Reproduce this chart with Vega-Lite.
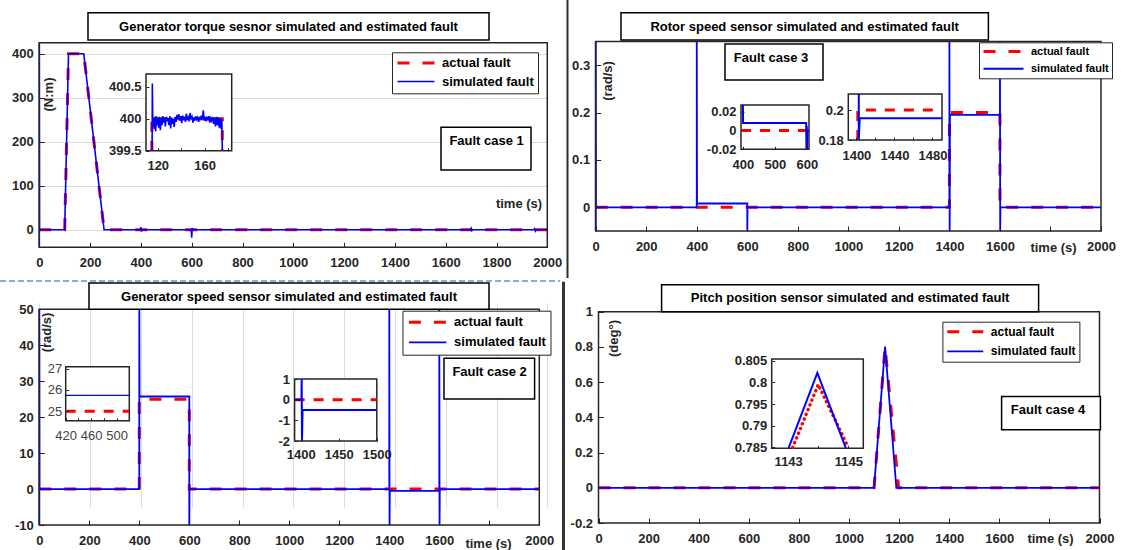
{
"$schema": "https://vega.github.io/schema/vega-lite/v6.json",
"width": 1123, "height": 550, "padding": 0, "autosize": "none", "background": "white",
"config": {
  "view": {"stroke": null},
  "font": "Liberation Sans",
  "axis": {"labelFont": "Liberation Sans", "labelFontSize": 13, "labelFontWeight": "bold", "labelColor": "#262626", "titleFont": "Liberation Sans", "titleFontSize": 13, "titleFontWeight": "bold", "titleColor": "#262626", "gridColor": "#dcdcdc", "gridWidth": 1, "gridOpacity": 1, "grid": true, "domain": false, "tickColor": "#262626", "tickSize": -5, "tickWidth": 1, "labelOverlap": false, "labelFlush": false, "labelBound": false},
  "axisX": {"labelPadding": 14},
  "axisY": {"labelPadding": 11},
  "legend": {"fillColor": "white", "strokeColor": "#262626", "symbolType": "stroke", "labelFont": "Liberation Sans", "labelFontWeight": "bold", "labelColor": "#000", "labelOffset": 6, "title": null}
},
"datasets": {
  "p1": [
    {"t":0,"v":0,"s":"actual fault"},{"t":100,"v":0,"s":"actual fault"},{"t":115,"v":400,"s":"actual fault"},{"t":175,"v":400,"s":"actual fault"},{"t":255,"v":0,"s":"actual fault"},{"t":2000,"v":0,"s":"actual fault"},
    {"t":0,"v":-40,"s":"simulated fault"},{"t":0,"v":425,"s":"simulated fault"},{"t":1,"v":0,"s":"simulated fault"},{"t":100,"v":0,"s":"simulated fault"},{"t":115,"v":400,"s":"simulated fault"},{"t":175,"v":400,"s":"simulated fault"},{"t":255,"v":0,"s":"simulated fault"},{"t":398,"v":0,"s":"simulated fault"},{"t":400,"v":6,"s":"simulated fault"},{"t":402,"v":-4,"s":"simulated fault"},{"t":404,"v":0,"s":"simulated fault"},{"t":598,"v":0,"s":"simulated fault"},{"t":600,"v":-18,"s":"simulated fault"},{"t":602,"v":4,"s":"simulated fault"},{"t":604,"v":0,"s":"simulated fault"},{"t":1698,"v":0,"s":"simulated fault"},{"t":1700,"v":3,"s":"simulated fault"},{"t":1703,"v":-2,"s":"simulated fault"},{"t":1706,"v":0,"s":"simulated fault"},{"t":1948,"v":0,"s":"simulated fault"},{"t":1950,"v":2,"s":"simulated fault"},{"t":1953,"v":-3,"s":"simulated fault"},{"t":1956,"v":0,"s":"simulated fault"},{"t":2000,"v":0,"s":"simulated fault"}
  ],
  "p1i": [
    {"t":115,"v":399.5,"s":"actual fault"},{"t":115,"v":400,"s":"actual fault"},{"t":175,"v":400,"s":"actual fault"},{"t":175,"v":399.5,"s":"actual fault"},
    {"t":115.2,"v":399.5,"s":"simulated fault"},{"t":115.4,"v":400.55,"s":"simulated fault"},{"t":115.8,"v":399.88,"s":"simulated fault"},{"t":116.4,"v":400.02,"s":"simulated fault"},{"t":117,"v":399.84,"s":"simulated fault"},{"t":117.6,"v":400.03,"s":"simulated fault"},{"t":118.2,"v":399.8,"s":"simulated fault"},{"t":118.9,"v":400.04,"s":"simulated fault"},{"t":119.5,"v":399.9,"s":"simulated fault"},{"t":120.2,"v":400.02,"s":"simulated fault"},{"t":120.8,"v":399.86,"s":"simulated fault"},{"t":121.5,"v":400.03,"s":"simulated fault"},{"t":122.2,"v":399.82,"s":"simulated fault"},{"t":122.9,"v":400.01,"s":"simulated fault"},{"t":123.6,"v":399.9,"s":"simulated fault"},{"t":124.3,"v":400.04,"s":"simulated fault"},{"t":125,"v":399.94,"s":"simulated fault"},{"t":125.8,"v":400.02,"s":"simulated fault"},{"t":126.5,"v":399.88,"s":"simulated fault"},{"t":127.3,"v":400.03,"s":"simulated fault"},{"t":128,"v":399.96,"s":"simulated fault"},{"t":128.8,"v":400.01,"s":"simulated fault"},{"t":129.5,"v":399.9,"s":"simulated fault"},{"t":130.3,"v":400.04,"s":"simulated fault"},{"t":131,"v":399.85,"s":"simulated fault"},{"t":131.8,"v":400.02,"s":"simulated fault"},{"t":132.5,"v":399.92,"s":"simulated fault"},{"t":133.3,"v":400.0,"s":"simulated fault"},{"t":134,"v":399.87,"s":"simulated fault"},{"t":134.8,"v":400.03,"s":"simulated fault"},{"t":135.6,"v":399.95,"s":"simulated fault"},{"t":136.4,"v":400.06,"s":"simulated fault"},{"t":137.2,"v":400.0,"s":"simulated fault"},{"t":138,"v":400.07,"s":"simulated fault"},{"t":138.8,"v":399.97,"s":"simulated fault"},{"t":139.6,"v":400.04,"s":"simulated fault"},{"t":140.4,"v":399.93,"s":"simulated fault"},{"t":141.2,"v":400.05,"s":"simulated fault"},{"t":142,"v":399.98,"s":"simulated fault"},{"t":142.8,"v":400.03,"s":"simulated fault"},{"t":143.6,"v":399.95,"s":"simulated fault"},{"t":144.4,"v":400.08,"s":"simulated fault"},{"t":145.2,"v":399.98,"s":"simulated fault"},{"t":146,"v":400.02,"s":"simulated fault"},{"t":146.8,"v":399.96,"s":"simulated fault"},{"t":147.6,"v":400.09,"s":"simulated fault"},{"t":148.4,"v":399.99,"s":"simulated fault"},{"t":149.2,"v":400.03,"s":"simulated fault"},{"t":150,"v":399.94,"s":"simulated fault"},{"t":150.8,"v":400.02,"s":"simulated fault"},{"t":151.6,"v":399.97,"s":"simulated fault"},{"t":152.4,"v":400.04,"s":"simulated fault"},{"t":153.2,"v":399.99,"s":"simulated fault"},{"t":154,"v":400.02,"s":"simulated fault"},{"t":154.8,"v":399.95,"s":"simulated fault"},{"t":155.6,"v":400.03,"s":"simulated fault"},{"t":156.4,"v":399.98,"s":"simulated fault"},{"t":157.2,"v":400.05,"s":"simulated fault"},{"t":158,"v":399.99,"s":"simulated fault"},{"t":158.8,"v":400.13,"s":"simulated fault"},{"t":159.6,"v":399.97,"s":"simulated fault"},{"t":160.4,"v":400.03,"s":"simulated fault"},{"t":161.2,"v":399.96,"s":"simulated fault"},{"t":162,"v":400.02,"s":"simulated fault"},{"t":162.8,"v":399.99,"s":"simulated fault"},{"t":163.6,"v":400.04,"s":"simulated fault"},{"t":164.4,"v":399.94,"s":"simulated fault"},{"t":165.2,"v":400.01,"s":"simulated fault"},{"t":166,"v":399.97,"s":"simulated fault"},{"t":166.8,"v":400.03,"s":"simulated fault"},{"t":167.6,"v":399.92,"s":"simulated fault"},{"t":168.4,"v":400.02,"s":"simulated fault"},{"t":169.2,"v":399.88,"s":"simulated fault"},{"t":170,"v":400.03,"s":"simulated fault"},{"t":170.8,"v":399.9,"s":"simulated fault"},{"t":171.6,"v":400.02,"s":"simulated fault"},{"t":172.4,"v":399.86,"s":"simulated fault"},{"t":173.2,"v":400.01,"s":"simulated fault"},{"t":174,"v":399.84,"s":"simulated fault"},{"t":174.6,"v":400.0,"s":"simulated fault"},{"t":175,"v":399.5,"s":"simulated fault"}
  ],
  "p2": [
    {"t":0,"v":0,"s":"actual fault"},{"t":1400,"v":0,"s":"actual fault"},{"t":1400,"v":0.2,"s":"actual fault"},{"t":1600,"v":0.2,"s":"actual fault"},{"t":1600,"v":0,"s":"actual fault"},{"t":2000,"v":0,"s":"actual fault"},
    {"t":0,"v":-0.05,"s":"simulated fault"},{"t":0,"v":0.35,"s":"simulated fault"},{"t":1,"v":0,"s":"simulated fault"},{"t":400,"v":0,"s":"simulated fault"},{"t":400,"v":0.35,"s":"simulated fault"},{"t":401,"v":0.008,"s":"simulated fault"},{"t":600,"v":0.008,"s":"simulated fault"},{"t":600,"v":-0.05,"s":"simulated fault"},{"t":601,"v":0,"s":"simulated fault"},{"t":1400,"v":0,"s":"simulated fault"},{"t":1400,"v":0.35,"s":"simulated fault"},{"t":1401,"v":-0.05,"s":"simulated fault"},{"t":1402,"v":0.195,"s":"simulated fault"},{"t":1600,"v":0.195,"s":"simulated fault"},{"t":1600,"v":0.35,"s":"simulated fault"},{"t":1601,"v":-0.05,"s":"simulated fault"},{"t":1602,"v":0,"s":"simulated fault"},{"t":2000,"v":0,"s":"simulated fault"}
  ],
  "p2a": [
    {"t":394,"v":0,"s":"actual fault"},{"t":607,"v":0,"s":"actual fault"},
    {"t":400,"v":0.027,"s":"simulated fault"},{"t":400.5,"v":0.008,"s":"simulated fault"},{"t":598,"v":0.008,"s":"simulated fault"},{"t":599,"v":-0.02,"s":"simulated fault"},{"t":600,"v":0.005,"s":"simulated fault"},{"t":601,"v":-0.02,"s":"simulated fault"},{"t":602,"v":0,"s":"simulated fault"},{"t":607,"v":0,"s":"simulated fault"}
  ],
  "p2b": [
    {"t":1401.5,"v":0.18,"s":"actual fault"},{"t":1401.5,"v":0.2,"s":"actual fault"},{"t":1490,"v":0.2,"s":"actual fault"},
    {"t":1402.5,"v":0.2107,"s":"simulated fault"},{"t":1402.5,"v":0.18,"s":"simulated fault"},{"t":1403.5,"v":0.1945,"s":"simulated fault"},{"t":1490,"v":0.1945,"s":"simulated fault"}
  ],
  "p3": [
    {"t":0,"v":0,"s":"actual fault"},{"t":400,"v":0,"s":"actual fault"},{"t":400,"v":25,"s":"actual fault"},{"t":600,"v":25,"s":"actual fault"},{"t":600,"v":0,"s":"actual fault"},{"t":2000,"v":0,"s":"actual fault"},
    {"t":0,"v":-10,"s":"simulated fault"},{"t":0,"v":50,"s":"simulated fault"},{"t":1,"v":0,"s":"simulated fault"},{"t":400,"v":0,"s":"simulated fault"},{"t":400,"v":50,"s":"simulated fault"},{"t":401,"v":25.75,"s":"simulated fault"},{"t":600,"v":25.75,"s":"simulated fault"},{"t":600,"v":-10,"s":"simulated fault"},{"t":601,"v":0,"s":"simulated fault"},{"t":1400,"v":0,"s":"simulated fault"},{"t":1400,"v":50,"s":"simulated fault"},{"t":1401,"v":-10,"s":"simulated fault"},{"t":1402,"v":-0.5,"s":"simulated fault"},{"t":1600,"v":-0.5,"s":"simulated fault"},{"t":1600,"v":50,"s":"simulated fault"},{"t":1601,"v":-10,"s":"simulated fault"},{"t":1602,"v":0,"s":"simulated fault"},{"t":2000,"v":0,"s":"simulated fault"}
  ],
  "p3a": [
    {"t":420,"v":25,"s":"actual fault"},{"t":520,"v":25,"s":"actual fault"},
    {"t":420,"v":25.75,"s":"simulated fault"},{"t":520,"v":25.75,"s":"simulated fault"}
  ],
  "p3b": [
    {"t":1392,"v":0,"s":"actual fault"},{"t":1500,"v":0,"s":"actual fault"},
    {"t":1392,"v":0,"s":"simulated fault"},{"t":1401,"v":0,"s":"simulated fault"},{"t":1401.3,"v":1,"s":"simulated fault"},{"t":1401.7,"v":-2,"s":"simulated fault"},{"t":1402.5,"v":-0.5,"s":"simulated fault"},{"t":1500,"v":-0.5,"s":"simulated fault"}
  ],
  "p4": [
    {"t":0,"v":0,"s":"actual fault"},{"t":1100,"v":0,"s":"actual fault"},{"t":1144,"v":0.8,"s":"actual fault"},{"t":1198,"v":0,"s":"actual fault"},{"t":2000,"v":0,"s":"actual fault"},
    {"t":0,"v":0,"s":"simulated fault"},{"t":1100,"v":0,"s":"simulated fault"},{"t":1144,"v":0.802,"s":"simulated fault"},{"t":1189,"v":0,"s":"simulated fault"},{"t":2000,"v":0,"s":"simulated fault"}
  ],
  "p4i": [
    {"t":1143.15,"v":0.785,"s":"actual fault"},{"t":1144.0,"v":0.7995,"s":"actual fault"},{"t":1145.0,"v":0.785,"s":"actual fault"},
    {"t":1143.02,"v":0.785,"s":"simulated fault"},{"t":1143.97,"v":0.8022,"s":"simulated fault"},{"t":1144.91,"v":0.785,"s":"simulated fault"}
  ]
},
"resolve": {
  "scale": {"x": "independent", "y": "independent", "color": "independent", "strokeDash": "independent", "strokeWidth": "independent"},
  "axis": {"x": "independent", "y": "independent"},
  "legend": {"color": "independent", "strokeDash": "independent", "strokeWidth": "independent"}
},
"layer": [
  {"layer": [
    {"data": {"name": "p1"}, "mark": {"type": "line", "strokeCap": "butt"},
     "encoding": {
      "x": {"field": "t", "type": "quantitative", "scale": {"domain": [0, 2000], "range": [39.3, 547.3], "nice": false, "zero": false},
            "axis": {"orient": "bottom", "offset": -302.7, "values": [0,200,400,600,800,1000,1200,1400,1600,1800,2000], "labelExpr": "'' + datum.value", "title": "time (s)", "titleX": 518.5, "titleY": -44.3, "titleAngle": 0, "titleAlign": "center", "titleBaseline": "middle"}},
      "y": {"field": "v", "type": "quantitative", "scale": {"domain": [-40, 425], "range": [247.3, 42.7], "nice": false, "zero": false},
            "axis": {"orient": "left", "offset": -39.3, "values": [0,100,200,300,400], "labelExpr": "'' + datum.value", "title": "(N:m)", "titleX": 8.7, "titleY": 94, "titleAngle": 270, "titleAlign": "center", "titleBaseline": "middle"}},
      "color": {"field": "s", "type": "nominal", "scale": {"domain": ["actual fault", "simulated fault"], "range": ["#ff0000", "#0000ff"]},
                "legend": {"orient": "none", "legendX": 392, "legendY": 52.3, "symbolSize": 1369, "clipHeight": 13.5, "labelFontSize": 13, "padding": 4, "rowPadding": 4.5}},
      "strokeDash": {"field": "s", "type": "nominal", "scale": {"domain": ["actual fault", "simulated fault"], "range": [[12, 13], [1, 0]]}},
      "strokeWidth": {"field": "s", "type": "nominal", "scale": {"domain": ["actual fault", "simulated fault"], "range": [3, 1.6]}},
      "order": {"value": null}
     }},
    {"data": {"values": [{"k": 0}]}, "mark": {"type": "rect", "filled": false, "stroke": "#262626", "strokeWidth": 1.5},
     "encoding": {"x": {"datum": 0}, "x2": {"datum": 2000}, "y": {"datum": -40}, "y2": {"datum": 425}}},
    {"data": {"values": [{"k": 0}]}, "mark": {"type": "rect", "fill": "white", "stroke": "#000", "strokeWidth": 1.5},
     "encoding": {"x": {"datum": 191.7}, "x2": {"datum": 1770.5}, "y": {"datum": 431.1}, "y2": {"datum": 493.2}}},
    {"data": {"values": [{"label": "Generator torque sesnor simulated and estimated fault"}]}, "mark": {"type": "text", "fontSize": 13, "fontWeight": "bold", "color": "#000"},
     "encoding": {"x": {"datum": 981.1}, "y": {"datum": 461.8}, "text": {"field": "label"}}},
    {"data": {"values": [{"k": 0}]}, "mark": {"type": "rect", "fill": "white", "stroke": "#000", "strokeWidth": 1.5},
     "encoding": {"x": {"datum": 1581.5}, "x2": {"datum": 1935.8}, "y": {"datum": 135.7}, "y2": {"datum": 232.7}}},
    {"data": {"values": [{"label": "Fault case 1"}]}, "mark": {"type": "text", "fontSize": 13, "fontWeight": "bold", "color": "#000"},
     "encoding": {"x": {"datum": 1761}, "y": {"datum": 201.6}, "text": {"field": "label"}}}
  ]},
  {"layer": [
    {"data": {"values": [{"k": 0}]}, "mark": {"type": "rect", "fill": "white", "stroke": "#262626", "strokeWidth": 1.5},
     "encoding": {"x": {"datum": 110}, "x2": {"datum": 183}, "y": {"datum": 399.5}, "y2": {"datum": 400.7}}},
    {"data": {"name": "p1i"}, "mark": {"type": "line", "strokeCap": "butt"},
     "encoding": {
      "x": {"field": "t", "type": "quantitative", "scale": {"domain": [110, 183], "range": [146, 231.7], "nice": false, "zero": false},
            "axis": {"orient": "bottom", "offset": -399.3, "values": [120,140,160,180], "labelExpr": "datum.value % 40 == 0 ? '' + datum.value : ''", "title": null, "zindex": 1, "tickSize": -3, "labelPadding": 12}},
      "y": {"field": "v", "type": "quantitative", "scale": {"domain": [399.5, 400.7], "range": [150.7, 74], "nice": false, "zero": false},
            "axis": {"orient": "left", "offset": -146, "values": [399.5, 400, 400.5], "labelExpr": "'' + datum.value", "title": null, "zindex": 1, "tickSize": -3, "labelPadding": 8}},
      "color": {"field": "s", "type": "nominal", "scale": {"domain": ["actual fault", "simulated fault"], "range": ["#ff0000", "#0000ff"]}, "legend": null},
      "strokeDash": {"field": "s", "type": "nominal", "scale": {"domain": ["actual fault", "simulated fault"], "range": [[10, 9], [1, 0]]}, "legend": null},
      "strokeWidth": {"field": "s", "type": "nominal", "scale": {"domain": ["actual fault", "simulated fault"], "range": [3, 1.6]}, "legend": null},
      "order": {"value": null}
     }}
  ]},
  {"layer": [
    {"data": {"name": "p2"}, "mark": {"type": "line", "strokeCap": "butt"},
     "encoding": {
      "x": {"field": "t", "type": "quantitative", "scale": {"domain": [0, 2000], "range": [595.7, 1101], "nice": false, "zero": false},
            "axis": {"orient": "bottom", "offset": -319, "values": [0,200,400,600,800,1000,1200,1400,1600,1800,2000], "labelExpr": "datum.value == 1800 ? '' : '' + datum.value", "title": "time (s)", "titleX": 1053, "titleY": 16, "titleAngle": 0, "titleAlign": "center", "titleBaseline": "middle"}},
      "y": {"field": "v", "type": "quantitative", "scale": {"domain": [-0.05, 0.35], "range": [231, 41.5], "nice": false, "zero": false},
            "axis": {"orient": "left", "offset": -595.7, "values": [0,0.1,0.2,0.3], "labelExpr": "'' + datum.value", "title": "(rad/s)", "titleX": 11.8, "titleY": 80.5, "titleAngle": 270, "titleAlign": "center", "titleBaseline": "middle"}},
      "color": {"field": "s", "type": "nominal", "scale": {"domain": ["actual fault", "simulated fault"], "range": ["#ff0000", "#0000ff"]},
                "legend": {"orient": "none", "legendX": 979, "legendY": 42.3, "symbolSize": 1600, "clipHeight": 12.5, "labelFontSize": 11, "padding": 3, "rowPadding": 4.2}},
      "strokeDash": {"field": "s", "type": "nominal", "scale": {"domain": ["actual fault", "simulated fault"], "range": [[12, 13], [1, 0]]}},
      "strokeWidth": {"field": "s", "type": "nominal", "scale": {"domain": ["actual fault", "simulated fault"], "range": [3, 1.8]}},
      "order": {"value": null}
     }},
    {"data": {"values": [{"k": 0}]}, "mark": {"type": "rect", "filled": false, "stroke": "#262626", "strokeWidth": 1.5},
     "encoding": {"x": {"datum": 0}, "x2": {"datum": 2000}, "y": {"datum": -0.05}, "y2": {"datum": 0.35}}},
    {"data": {"values": [{"k": 0}]}, "mark": {"type": "rect", "fill": "white", "stroke": "#000", "strokeWidth": 1.5},
     "encoding": {"x": {"datum": 100.1}, "x2": {"datum": 1554.3}, "y": {"datum": 0.353}, "y2": {"datum": 0.4108}}},
    {"data": {"values": [{"label": "Rotor speed sensor simulated and estimated fault"}]}, "mark": {"type": "text", "fontSize": 13, "fontWeight": "bold", "color": "#000"},
     "encoding": {"x": {"datum": 827.2}, "y": {"datum": 0.3796}, "text": {"field": "label"}}},
    {"data": {"values": [{"k": 0}]}, "mark": {"type": "rect", "fill": "white", "stroke": "#000", "strokeWidth": 1.5},
     "encoding": {"x": {"datum": 511.8}, "x2": {"datum": 899.7}, "y": {"datum": 0.2687}, "y2": {"datum": 0.3447}}},
    {"data": {"values": [{"label": "Fault case 3"}]}, "mark": {"type": "text", "fontSize": 13, "fontWeight": "bold", "color": "#000"},
     "encoding": {"x": {"datum": 693.9}, "y": {"datum": 0.3158}, "text": {"field": "label"}}},
    {"data": {"values": [{"k": 0}]}, "mark": {"type": "rule", "color": "#2b2b2b", "strokeWidth": 2},
     "encoding": {"x": {"datum": -111.6}, "y": {"datum": 0.4376}, "y2": {"datum": -0.1492}}}
  ]},
  {"layer": [
    {"data": {"values": [{"k": 0}]}, "mark": {"type": "rect", "fill": "white", "stroke": "#262626", "strokeWidth": 1.5},
     "encoding": {"x": {"datum": 394}, "x2": {"datum": 607}, "y": {"datum": -0.02}, "y2": {"datum": 0.027}}},
    {"data": {"name": "p2a"}, "mark": {"type": "line", "strokeCap": "butt"},
     "encoding": {
      "x": {"field": "t", "type": "quantitative", "scale": {"domain": [394, 607], "range": [741, 809], "nice": false, "zero": false},
            "axis": {"orient": "bottom", "offset": -400.7, "values": [400,500,600], "labelExpr": "'' + datum.value", "title": null, "zindex": 1, "tickSize": -3, "labelPadding": 12}},
      "y": {"field": "v", "type": "quantitative", "scale": {"domain": [-0.02, 0.027], "range": [149.3, 105], "nice": false, "zero": false},
            "axis": {"orient": "left", "offset": -741, "values": [-0.02, 0, 0.02], "labelExpr": "'' + datum.value", "title": null, "zindex": 1, "tickSize": -3, "labelPadding": 8}},
      "color": {"field": "s", "type": "nominal", "scale": {"domain": ["actual fault", "simulated fault"], "range": ["#ff0000", "#0000ff"]}, "legend": null},
      "strokeDash": {"field": "s", "type": "nominal", "scale": {"domain": ["actual fault", "simulated fault"], "range": [[10, 9], [1, 0]]}, "legend": null},
      "strokeWidth": {"field": "s", "type": "nominal", "scale": {"domain": ["actual fault", "simulated fault"], "range": [3, 2]}, "legend": null},
      "order": {"value": null}
     }}
  ]},
  {"layer": [
    {"data": {"values": [{"k": 0}]}, "mark": {"type": "rect", "fill": "white", "stroke": "#262626", "strokeWidth": 1.5},
     "encoding": {"x": {"datum": 1391.5}, "x2": {"datum": 1490}, "y": {"datum": 0.18}, "y2": {"datum": 0.2107}}},
    {"data": {"name": "p2b"}, "mark": {"type": "line", "strokeCap": "butt"},
     "encoding": {
      "x": {"field": "t", "type": "quantitative", "scale": {"domain": [1391.5, 1490], "range": [848.3, 942], "nice": false, "zero": false},
            "axis": {"orient": "bottom", "offset": -410, "values": [1400,1420,1440,1460,1480], "labelExpr": "(datum.value - 1400) % 40 == 0 ? '' + datum.value : ''", "title": null, "zindex": 1, "tickSize": -3, "labelPadding": 12}},
      "y": {"field": "v", "type": "quantitative", "scale": {"domain": [0.18, 0.2107], "range": [140, 94], "nice": false, "zero": false},
            "axis": {"orient": "left", "offset": -848.3, "values": [0.18, 0.2], "labelExpr": "'' + datum.value", "title": null, "zindex": 1, "tickSize": -3, "labelPadding": 8}},
      "color": {"field": "s", "type": "nominal", "scale": {"domain": ["actual fault", "simulated fault"], "range": ["#ff0000", "#0000ff"]}, "legend": null},
      "strokeDash": {"field": "s", "type": "nominal", "scale": {"domain": ["actual fault", "simulated fault"], "range": [[10, 9], [1, 0]]}, "legend": null},
      "strokeWidth": {"field": "s", "type": "nominal", "scale": {"domain": ["actual fault", "simulated fault"], "range": [3, 2]}, "legend": null},
      "order": {"value": null}
     }}
  ]},
  {"layer": [
    {"data": {"name": "p3"}, "mark": {"type": "line", "strokeCap": "butt"},
     "encoding": {
      "x": {"field": "t", "type": "quantitative", "scale": {"domain": [0, 2000], "range": [39.3, 539.3], "nice": false, "zero": false},
            "axis": {"orient": "bottom", "offset": -25, "values": [0,200,400,600,800,1000,1200,1400,1600,1800,2000], "labelExpr": "datum.value == 1800 ? '' : '' + datum.value", "title": "time (s)", "titleX": 488, "titleY": 18, "titleAngle": 0, "titleAlign": "center", "titleBaseline": "middle"}},
      "y": {"field": "v", "type": "quantitative", "scale": {"domain": [-10, 50], "range": [525, 309.3], "nice": false, "zero": false},
            "axis": {"orient": "left", "offset": -39.3, "values": [-10,0,10,20,30,40,50], "labelExpr": "'' + datum.value", "title": "(rad/s)", "titleX": 7.5, "titleY": 332, "titleAngle": 270, "titleAlign": "center", "titleBaseline": "middle"}},
      "color": {"field": "s", "type": "nominal", "scale": {"domain": ["actual fault", "simulated fault"], "range": ["#ff0000", "#0000ff"]},
                "legend": {"orient": "none", "legendX": 402.5, "legendY": 310.7, "symbolSize": 1400, "clipHeight": 14, "labelFontSize": 13, "padding": 4.6, "rowPadding": 6}},
      "strokeDash": {"field": "s", "type": "nominal", "scale": {"domain": ["actual fault", "simulated fault"], "range": [[12, 13], [1, 0]]}},
      "strokeWidth": {"field": "s", "type": "nominal", "scale": {"domain": ["actual fault", "simulated fault"], "range": [3, 1.8]}},
      "order": {"value": null}
     }},
    {"data": {"values": [{"k": 0}]}, "mark": {"type": "rect", "filled": false, "stroke": "#262626", "strokeWidth": 1.5},
     "encoding": {"x": {"datum": 0}, "x2": {"datum": 2000}, "y": {"datum": -10}, "y2": {"datum": 50}}},
    {"data": {"values": [{"k": 0}]}, "mark": {"type": "rect", "fill": "white", "stroke": "#000", "strokeWidth": 1.5},
     "encoding": {"x": {"datum": 198.8}, "x2": {"datum": 1798.8}, "y": {"datum": 50}, "y2": {"datum": 57.31}}},
    {"data": {"values": [{"label": "Generator speed sensor simulated and estimated fault"}]}, "mark": {"type": "text", "fontSize": 13, "fontWeight": "bold", "color": "#000"},
     "encoding": {"x": {"datum": 998.8}, "y": {"datum": 53.56}, "text": {"field": "label"}}},
    {"data": {"values": [{"k": 0}]}, "mark": {"type": "rect", "fill": "white", "stroke": "#000", "strokeWidth": 1.5},
     "encoding": {"x": {"datum": 1618.8}, "x2": {"datum": 1981.2}, "y": {"datum": 25.05}, "y2": {"datum": 36.37}}},
    {"data": {"values": [{"label": "Fault case 2"}]}, "mark": {"type": "text", "fontSize": 13, "fontWeight": "bold", "color": "#000"},
     "encoding": {"x": {"datum": 1801.2}, "y": {"datum": 32.48}, "text": {"field": "label"}}},
    {"data": {"values": [{"k": 0}]}, "mark": {"type": "rule", "color": "#6f8fc8", "strokeWidth": 1.5, "strokeDash": [6, 3]},
     "encoding": {"x": {"datum": -157.2}, "x2": {"datum": 2082.8}, "y": {"datum": 57.87}}}
  ]},
  {"layer": [
    {"data": {"values": [{"k": 0}]}, "mark": {"type": "rect", "fill": "white", "stroke": "#262626", "strokeWidth": 1.5},
     "encoding": {"x": {"datum": 420}, "x2": {"datum": 520}, "y": {"datum": 24.55}, "y2": {"datum": 27.1}}},
    {"data": {"name": "p3a"}, "mark": {"type": "line", "strokeCap": "butt"},
     "encoding": {
      "x": {"field": "t", "type": "quantitative", "scale": {"domain": [420, 520], "range": [65.7, 129.3], "nice": false, "zero": false},
            "axis": {"orient": "bottom", "offset": -129.3, "values": [420,440,460,480,500,520], "labelExpr": "(datum.value - 420) % 40 == 0 ? '' + datum.value : ''", "title": null, "zindex": 1, "tickSize": -3, "labelPadding": 12, "labelFontWeight": "normal", "labelColor": "#444"}},
      "y": {"field": "v", "type": "quantitative", "scale": {"domain": [24.55, 27.1], "range": [420.7, 366.7], "nice": false, "zero": false},
            "axis": {"orient": "left", "offset": -65.7, "values": [25, 26, 27], "labelExpr": "'' + datum.value", "title": null, "zindex": 1, "tickSize": -3, "labelPadding": 7, "labelFontWeight": "normal", "labelColor": "#444"}},
      "color": {"field": "s", "type": "nominal", "scale": {"domain": ["actual fault", "simulated fault"], "range": ["#ff0000", "#0000ff"]}, "legend": null},
      "strokeDash": {"field": "s", "type": "nominal", "scale": {"domain": ["actual fault", "simulated fault"], "range": [[10, 9], [1, 0]]}, "legend": null},
      "strokeWidth": {"field": "s", "type": "nominal", "scale": {"domain": ["actual fault", "simulated fault"], "range": [3, 1.3]}, "legend": null},
      "order": {"value": null}
     }}
  ]},
  {"layer": [
    {"data": {"values": [{"k": 0}]}, "mark": {"type": "rect", "fill": "white", "stroke": "#262626", "strokeWidth": 1.5},
     "encoding": {"x": {"datum": 1392}, "x2": {"datum": 1500}, "y": {"datum": -2}, "y2": {"datum": 1}}},
    {"data": {"name": "p3b"}, "mark": {"type": "line", "strokeCap": "butt"},
     "encoding": {
      "x": {"field": "t", "type": "quantitative", "scale": {"domain": [1392, 1500], "range": [294.6, 376.8], "nice": false, "zero": false},
            "axis": {"orient": "bottom", "offset": -109, "values": [1400,1450,1500], "labelExpr": "'' + datum.value", "title": null, "zindex": 1, "grid": false, "tickSize": -3, "labelPadding": 10}},
      "y": {"field": "v", "type": "quantitative", "scale": {"domain": [-2, 1], "range": [441, 379], "nice": false, "zero": false},
            "axis": {"orient": "left", "offset": -294.6, "values": [-2,-1,0,1], "labelExpr": "'' + datum.value", "title": null, "zindex": 1, "grid": false, "tickSize": -3, "labelPadding": 8}},
      "color": {"field": "s", "type": "nominal", "scale": {"domain": ["actual fault", "simulated fault"], "range": ["#ff0000", "#0000ff"]}, "legend": null},
      "strokeDash": {"field": "s", "type": "nominal", "scale": {"domain": ["actual fault", "simulated fault"], "range": [[10, 9], [1, 0]]}, "legend": null},
      "strokeWidth": {"field": "s", "type": "nominal", "scale": {"domain": ["actual fault", "simulated fault"], "range": [3, 2]}, "legend": null},
      "order": {"value": null}
     }}
  ]},
  {"layer": [
    {"data": {"name": "p4"}, "mark": {"type": "line", "strokeCap": "butt"},
     "encoding": {
      "x": {"field": "t", "type": "quantitative", "scale": {"domain": [0, 2000], "range": [598.5, 1099.5], "nice": false, "zero": false},
            "axis": {"orient": "bottom", "offset": -27, "values": [0,200,400,600,800,1000,1200,1400,1600,1800,2000], "labelExpr": "datum.value == 1800 ? '' : '' + datum.value", "title": "time (s)", "titleX": 1050, "titleY": 15, "titleAngle": 0, "titleAlign": "center", "titleBaseline": "middle"}},
      "y": {"field": "v", "type": "quantitative", "scale": {"domain": [-0.2, 1], "range": [523, 311.7], "nice": false, "zero": false},
            "axis": {"orient": "left", "offset": -598.5, "values": [-0.2,0,0.2,0.4,0.6,0.8,1], "labelExpr": "'' + datum.value", "title": "(deg°)", "titleX": 14.5, "titleY": 338, "titleAngle": 270, "titleAlign": "center", "titleBaseline": "middle"}},
      "color": {"field": "s", "type": "nominal", "scale": {"domain": ["actual fault", "simulated fault"], "range": ["#ff0000", "#0000ff"]},
                "legend": {"orient": "none", "legendX": 942.4, "legendY": 321.7, "symbolSize": 1296, "clipHeight": 13.5, "labelFontSize": 12, "padding": 3.4, "rowPadding": 5.5}},
      "strokeDash": {"field": "s", "type": "nominal", "scale": {"domain": ["actual fault", "simulated fault"], "range": [[12, 13], [1, 0]]}},
      "strokeWidth": {"field": "s", "type": "nominal", "scale": {"domain": ["actual fault", "simulated fault"], "range": [3, 1.8]}},
      "order": {"value": null}
     }},
    {"data": {"values": [{"k": 0}]}, "mark": {"type": "rect", "filled": false, "stroke": "#262626", "strokeWidth": 1.5},
     "encoding": {"x": {"datum": 0}, "x2": {"datum": 2000}, "y": {"datum": -0.2}, "y2": {"datum": 1}}},
    {"data": {"values": [{"k": 0}]}, "mark": {"type": "rect", "fill": "white", "stroke": "#000", "strokeWidth": 1.5},
     "encoding": {"x": {"datum": 251.9}, "x2": {"datum": 1756.9}, "y": {"datum": 1.0}, "y2": {"datum": 1.1536}}},
    {"data": {"values": [{"label": "Pitch position sensor simulated and estimated fault"}]}, "mark": {"type": "text", "fontSize": 13, "fontWeight": "bold", "color": "#000"},
     "encoding": {"x": {"datum": 1004.4}, "y": {"datum": 1.0796}, "text": {"field": "label"}}},
    {"data": {"values": [{"k": 0}]}, "mark": {"type": "rect", "fill": "white", "stroke": "#000", "strokeWidth": 1.5},
     "encoding": {"x": {"datum": 1609.2}, "x2": {"datum": 2003.6}, "y": {"datum": 0.3289}, "y2": {"datum": 0.5183}}},
    {"data": {"values": [{"label": "Fault case 4"}]}, "mark": {"type": "text", "fontSize": 13, "fontWeight": "bold", "color": "#000"},
     "encoding": {"x": {"datum": 1794.4}, "y": {"datum": 0.4427}, "text": {"field": "label"}}},
    {"data": {"values": [{"k": 0}]}, "mark": {"type": "rule", "color": "#333", "strokeWidth": 3},
     "encoding": {"x": {"datum": -139.7}, "y": {"datum": 1.1707}, "y2": {"datum": -0.3536}}}
  ]},
  {"layer": [
    {"data": {"values": [{"k": 0}]}, "mark": {"type": "rect", "fill": "white", "stroke": "#262626", "strokeWidth": 1.5},
     "encoding": {"x": {"datum": 1142.45}, "x2": {"datum": 1145.5}, "y": {"datum": 0.7848}, "y2": {"datum": 0.8054}}},
    {"data": {"name": "p4i"}, "mark": {"type": "line", "strokeCap": "round"},
     "encoding": {
      "x": {"field": "t", "type": "quantitative", "scale": {"domain": [1142.45, 1145.5], "range": [771.7, 863.3], "nice": false, "zero": false},
            "axis": {"orient": "bottom", "offset": -101.7, "values": [1143,1144,1145], "labelExpr": "datum.value == 1144 ? '' : '' + datum.value", "title": null, "zindex": 1, "tickSize": -3, "labelPadding": 10}},
      "y": {"field": "v", "type": "quantitative", "scale": {"domain": [0.7848, 0.8054], "range": [448.3, 359], "nice": false, "zero": false},
            "axis": {"orient": "left", "offset": -771.7, "values": [0.785, 0.79, 0.795, 0.8, 0.805], "labelExpr": "'' + datum.value", "title": null, "zindex": 1, "tickSize": -3, "labelPadding": 8}},
      "color": {"field": "s", "type": "nominal", "scale": {"domain": ["actual fault", "simulated fault"], "range": ["#ff0000", "#0000ff"]}, "legend": null},
      "strokeDash": {"field": "s", "type": "nominal", "scale": {"domain": ["actual fault", "simulated fault"], "range": [[0.1, 5], [1, 0]]}, "legend": null},
      "strokeWidth": {"field": "s", "type": "nominal", "scale": {"domain": ["actual fault", "simulated fault"], "range": [3.5, 2]}, "legend": null},
      "order": {"value": null}
     }}
  ]}
]
}
